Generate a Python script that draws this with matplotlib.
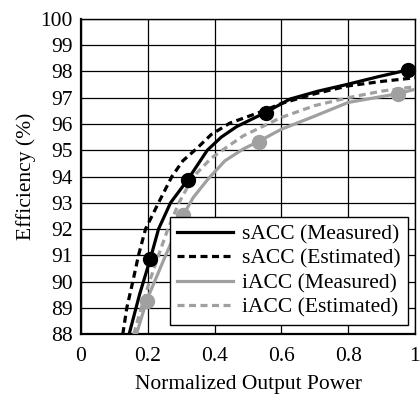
import matplotlib
matplotlib.use("Agg")
import matplotlib.pyplot as plt

plt.rcParams['font.family'] = ['Liberation Serif', 'DejaVu Serif']

# sACC measured (solid black)
s_meas_x = [0.144, 0.175, 0.207, 0.232, 0.268, 0.319, 0.378, 0.42, 0.466, 0.551, 0.626, 0.71, 0.795, 0.89, 0.98]
s_meas_y = [88.0, 89.5, 90.85, 92.0, 93.0, 93.87, 95.0, 95.5, 95.9, 96.43, 96.95, 97.25, 97.5, 97.8, 98.06]
s_pts_x = [0.207, 0.319, 0.553, 0.98]
s_pts_y = [90.85, 93.87, 96.42, 98.06]

# sACC estimated (dashed black)
s_est_x = [0.125, 0.137, 0.155, 0.172, 0.193, 0.232, 0.272, 0.305, 0.345, 0.39, 0.445, 0.536, 0.6, 0.7, 0.8, 0.9, 1.0]
s_est_y = [88.0, 89.0, 90.0, 91.0, 92.0, 93.0, 94.0, 94.6, 95.05, 95.6, 96.03, 96.45, 96.78, 97.15, 97.45, 97.62, 97.76]

# iACC measured (solid gray)
i_meas_x = [0.166, 0.197, 0.25, 0.306, 0.336, 0.38, 0.431, 0.486, 0.531, 0.6, 0.7, 0.8, 0.948, 1.0]
i_meas_y = [88.0, 89.3, 90.9, 92.53, 93.2, 93.9, 94.6, 95.05, 95.33, 95.8, 96.3, 96.82, 97.15, 97.32]
i_pts_x = [0.197, 0.306, 0.533, 0.948]
i_pts_y = [89.27, 92.53, 95.33, 97.14]

# iACC estimated (dashed gray)
i_est_x = [0.158, 0.18, 0.205, 0.232, 0.26, 0.293, 0.336, 0.39, 0.44, 0.486, 0.6, 0.7, 0.8, 0.9, 1.0]
i_est_y = [88.0, 89.0, 90.0, 91.0, 92.0, 93.0, 93.99, 94.7, 95.15, 95.55, 96.25, 96.7, 97.0, 97.25, 97.42]

x_ticks = [0, 0.2, 0.4, 0.6, 0.8, 1]
x_ticklabels = ['0', '0.2', '0.4', '0.6', '0.8', '1']
y_ticks = list(range(88, 101))

gray = '#a0a0a0'
fs = 15.5

fig = plt.figure(figsize=(4.2, 3.94), dpi=100)
ax = fig.add_axes([0.193, 0.152, 0.795, 0.800])

ax.plot(s_meas_x, s_meas_y, color='black', lw=2.3, label='sACC (Measured)', zorder=4)
ax.plot(s_est_x, s_est_y, color='black', lw=2.3, dashes=(2.2, 1.4), label='sACC (Estimated)', zorder=4)
ax.plot(i_meas_x, i_meas_y, color=gray, lw=2.3, label='iACC (Measured)', zorder=3)
ax.plot(i_est_x, i_est_y, color=gray, lw=2.3, dashes=(2.2, 1.4), label='iACC (Estimated)', zorder=3)
ax.plot(s_pts_x, s_pts_y, 'o', color='black', ms=10, zorder=5, clip_on=False)
ax.plot(i_pts_x, i_pts_y, 'o', color=gray, ms=10, zorder=3, clip_on=False)

ax.set_xlim(0, 1)
ax.set_ylim(88, 100)
ax.set_xticks(x_ticks)
ax.set_xticklabels(x_ticklabels)
ax.set_yticks(y_ticks)
ax.tick_params(axis='both', length=0, labelsize=fs)
ax.tick_params(axis='y', pad=6)
ax.tick_params(axis='x', pad=9)
ax.grid(True, color='black', lw=0.9)
ax.set_axisbelow(True)
for s in ax.spines.values():
    s.set_color('black')
    s.set_linewidth(1.0)
ax.spines['left'].set_linewidth(1.6)
ax.spines['bottom'].set_linewidth(1.6)

ax.set_xlabel('Normalized Output Power', fontsize=fs, labelpad=7)
ax.set_ylabel('Efficiency (%)', fontsize=fs, labelpad=3)

leg = ax.legend(loc='lower right', bbox_to_anchor=(0.979, 0.029), borderaxespad=0,
                fontsize=fs, frameon=True, fancybox=False, framealpha=1,
                edgecolor='black', handlelength=2.6, handletextpad=0.4,
                labelspacing=0.2, borderpad=0.35)
leg.get_frame().set_linewidth(1.0)

fig.savefig('out.png', dpi=100)
